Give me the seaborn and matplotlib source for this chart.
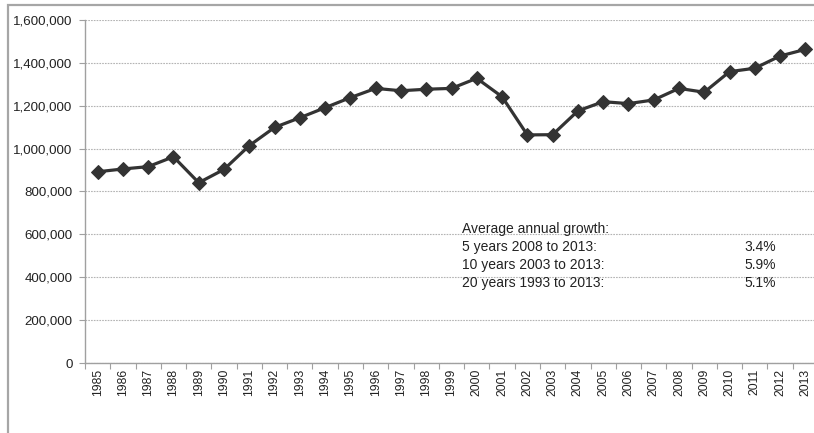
import numpy as np
import pandas as pd
import matplotlib
matplotlib.use("Agg")
import matplotlib.pyplot as plt
from matplotlib.patches import Rectangle
from matplotlib.ticker import FuncFormatter, FixedLocator
import seaborn as sns

years = list(range(1985, 2014))
values = [892000, 905000, 916000, 962000, 841000, 903000, 1014000, 1099000,
          1144000, 1191000, 1238000, 1281000, 1270000, 1277000, 1281000,
          1328000, 1242000, 1064000, 1065000, 1176000, 1219000, 1210000,
          1227000, 1281000, 1263000, 1359000, 1375000, 1432000, 1463000]
growth_labels = ["5 years 2008 to 2013:", "10 years 2003 to 2013:",
                 "20 years 1993 to 2013:"]
growth_rates = ["3.4%", "5.9%", "5.1%"]

df = pd.DataFrame({"year": years, "value": values})

sns.set_theme(style="white")
plt.rcParams["font.family"] = ["Liberation Sans", "DejaVu Sans"]

W, H = 814, 433
fig = plt.figure(figsize=(W / 100, H / 100), dpi=100)

# outer frame of the chart area
fig.patches.append(Rectangle((8 / W, -0.2), 1.2, (H - 5) / H + 0.2,
                             transform=fig.transFigure, fill=False,
                             edgecolor="#a6a6a6", linewidth=1.6, zorder=0))

left, right, top, bottom = 85, 818, 20, 363
ax = fig.add_axes([left / W, (H - bottom) / H, (right - left) / W, (bottom - top) / H])

sns.lineplot(data=df, x="year", y="value", ax=ax, color="#333333",
             linewidth=2.3, marker="D", markersize=7.5,
             markeredgecolor="#333333", markerfacecolor="#333333", zorder=3)

ax.set_xlim(years[0] - 0.5, years[-1] + 0.5)
ax.set_ylim(0, 1600000)
ax.set_yticks(np.arange(0, 1600001, 200000))
ax.yaxis.set_major_formatter(FuncFormatter(lambda v, p: f"{int(v):,}"))

# category boundaries carry the tick marks, centres carry the labels
ax.xaxis.set_major_locator(FixedLocator(np.arange(years[0] - 0.5, years[-1] + 1.0, 1.0)))
ax.xaxis.set_major_formatter(FuncFormatter(lambda v, p: ""))
ax.set_xticks(years, minor=True)
ax.set_xticklabels([str(y) for y in years], minor=True, rotation=90,
                   fontsize=8.8, color="#222222")
ax.tick_params(axis="x", which="major", length=4, width=0.8, color="#a0a0a0",
               direction="out", bottom=True)
ax.tick_params(axis="x", which="minor", length=0, pad=4)
ax.tick_params(axis="y", which="major", length=4, width=0.8, color="#a0a0a0",
               direction="out", left=True, pad=5, labelsize=9.6, labelcolor="#222222")

ax.grid(axis="y", color="#b4b4b4", linestyle=(0, (1.5, 1)), linewidth=0.8)
ax.set_axisbelow(True)
for s in ["top", "right"]:
    ax.spines[s].set_visible(False)
for s in ["left", "bottom"]:
    ax.spines[s].set_color("#a0a0a0")
    ax.spines[s].set_linewidth(1.0)
ax.set_xlabel("")
ax.set_ylabel("")

# growth summary text
tx0, ty0, dy = 462 / W, 1 - 229 / H, 18 / H
fig.text(tx0, ty0, "Average annual growth:", fontsize=10.0, color="#222222",
         va="center", ha="left")
for i, (lab, rate) in enumerate(zip(growth_labels, growth_rates)):
    y = ty0 - (i + 1) * dy
    fig.text(tx0, y, lab, fontsize=10.0, color="#222222", va="center", ha="left")
    fig.text(776 / W, y, rate, fontsize=10.0, color="#222222", va="center", ha="right")

fig.savefig("out.png", dpi=100, facecolor="white")
